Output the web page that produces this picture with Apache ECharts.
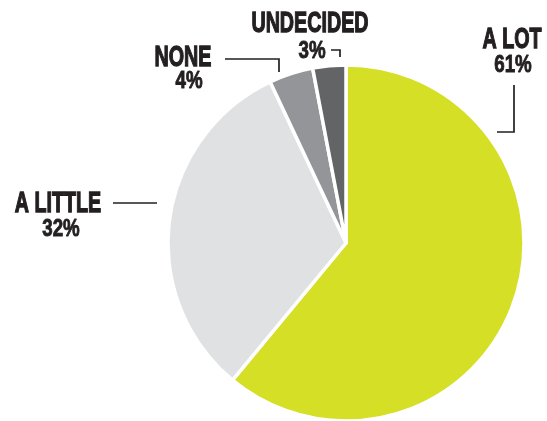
<!DOCTYPE html>
<html>
<head>
<meta charset="utf-8">
<script src="https://cdn.jsdelivr.net/npm/echarts@6/dist/echarts.min.js"></script>
<style>
html,body{margin:0;padding:0;background:#fff;}
#chart{width:547px;height:421px;}
</style>
</head>
<body>
<div id="chart"></div>
<script>
// Data
var categories = ['A LOT', 'A LITTLE', 'NONE', 'UNDECIDED'];
var values = [61, 32, 4, 3];
var percentLabels = ['61%', '32%', '4%', '3%'];
var colors = ['#d4df26', '#e0e1e3', '#939598', '#636466'];

// Label placement (layout only): name centre, percent centre, leader line
var labelPlacement = [
  { name: [512, 40], pct: [513, 65], line: [[514, 85], [514, 132], [497, 132]] },
  { name: [58, 204], pct: [61, 229], line: [[113, 203], [157, 203]] },
  { name: [183, 57.5], pct: [189, 81], line: [[225, 59], [279, 59], [279, 72]] },
  { name: [310, 23.5], pct: [312, 51], line: [[331, 50], [340, 50], [340, 57]] }
];

var FONT = '"Liberation Sans", Arial, sans-serif';
var TEXT_COLOR = '#231f20';

var chart = echarts.init(document.getElementById('chart'), null, { renderer: 'canvas' });
var seriesData = categories.map(function (c, i) {
  return { name: c, value: values[i], itemStyle: { color: colors[i] } };
});

var graphics = [];
categories.forEach(function (c, i) {
  var L = labelPlacement[i];
  graphics.push({
    type: 'text', x: L.name[0], y: L.name[1], scaleX: 0.68, silent: true,
    style: { text: c, fill: TEXT_COLOR, stroke: TEXT_COLOR, lineWidth: 1.3, font: 'bold 29px ' + FONT, align: 'center', verticalAlign: 'middle' }
  });
  graphics.push({
    type: 'text', x: L.pct[0], y: L.pct[1], scaleX: 0.78, silent: true,
    style: { text: percentLabels[i], fill: TEXT_COLOR, stroke: TEXT_COLOR, lineWidth: 0.9, font: 'bold 24px ' + FONT, align: 'center', verticalAlign: 'middle' }
  });
  graphics.push({
    type: 'polyline', silent: true,
    shape: { points: L.line },
    style: { stroke: TEXT_COLOR, lineWidth: 1.7, fill: null }
  });
});

chart.setOption({
  animation: false,
  graphic: { elements: graphics },
  series: [{
    type: 'pie',
    center: [346, 243],
    radius: [0, 178],
    startAngle: 90,
    clockwise: true,
    data: seriesData,
    itemStyle: { borderColor: '#ffffff', borderWidth: 3.5 },
    label: { show: false },
    labelLine: { show: false },
    emphasis: { disabled: true }
  }]
});
</script>
</body>
</html>
